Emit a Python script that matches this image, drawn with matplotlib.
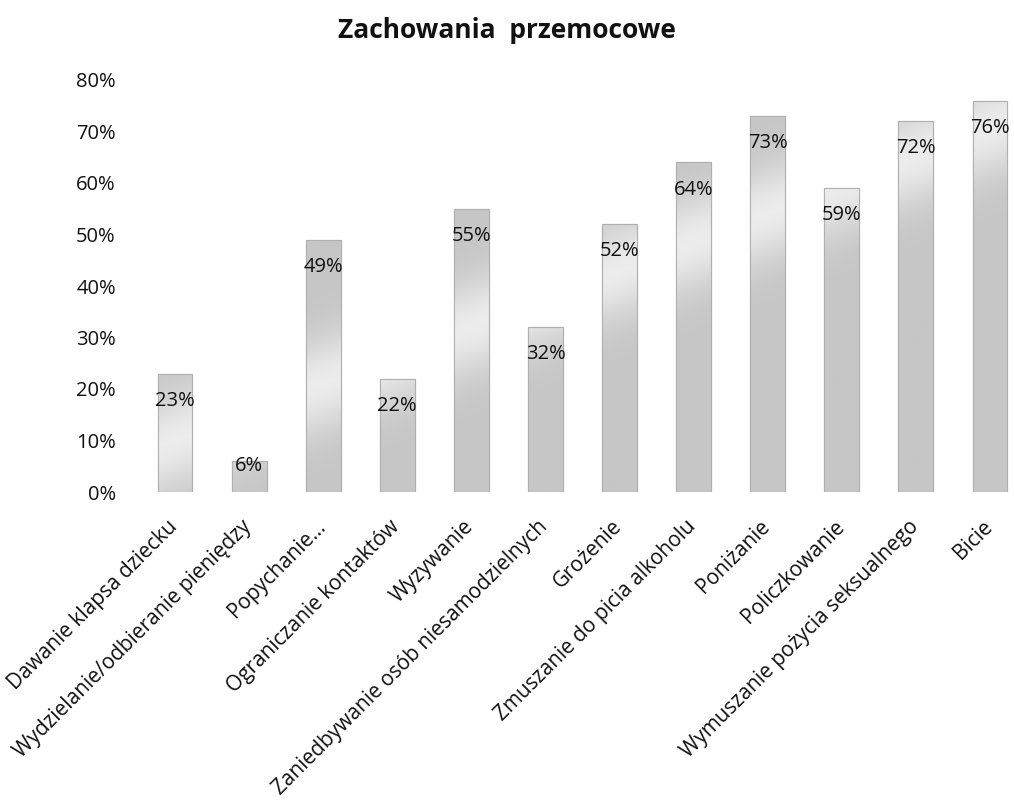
import numpy as np
import matplotlib
matplotlib.use("Agg")
import matplotlib.pyplot as plt
import matplotlib.transforms as mtransforms
from matplotlib.colors import LinearSegmentedColormap

categories = ["Dawanie klapsa dziecku", "Wydzielanie/odbieranie pieniędzy", "Popychanie...",
              "Ograniczanie kontaktów", "Wyzywanie", "Zaniedbywanie osób niesamodzielnych",
              "Grożenie", "Zmuszanie do picia alkoholu", "Poniżanie", "Policzkowanie",
              "Wymuszanie pożycia seksualnego", "Bicie"]
values = [0.23, 0.06, 0.49, 0.22, 0.55, 0.32, 0.52, 0.64, 0.73, 0.59, 0.72, 0.76]
yticks = [0, 0.1, 0.2, 0.3, 0.4, 0.5, 0.6, 0.7, 0.8]
ytick_labels = ["0%", "10%", "20%", "30%", "40%", "50%", "60%", "70%", "80%"]
title = "Zachowania  przemocowe"

plt.rcParams['font.family'] = ['Open Sans', 'DejaVu Sans']

fig = plt.figure(figsize=(10.14, 8.05), dpi=100)
W, H = 1014, 805
left, right = 138, 1027
bottom_px, top_px = 492, 80
ax = fig.add_axes([left / W, 1 - bottom_px / H, (right - left) / W, (bottom_px - top_px) / H])

x = np.arange(len(values))
bars = ax.bar(x, values, width=0.47, color="#c8c8c8", edgecolor="#b3b3b3", linewidth=0.8, zorder=2)

nx, ny = 400, 400
gx, gy = np.meshgrid(np.linspace(-0.5, 11.5, nx), np.linspace(0, 0.8, ny))
u = (gy - (0.10 + 0.055 * gx)) * 10
band = np.exp(-(u ** 2) / 0.8)
cmap = LinearSegmentedColormap.from_list("g", ["#c6c6c6", "#ececec"])
for b in bars:
    im = ax.imshow(band, extent=(-0.5, 11.5, 0, 0.8), origin="lower", cmap=cmap,
                   vmin=0, vmax=1, aspect="auto", zorder=2.5, interpolation="bilinear")
    im.set_clip_path(b)
    b2 = plt.Rectangle(b.get_xy(), b.get_width(), b.get_height(), fill=False,
                       edgecolor="#b0b0b0", linewidth=0.8, zorder=3)
    ax.add_patch(b2)

for xi, v in zip(x, values):
    yl = v - 0.053 if v > 0.15 else v - 0.01
    ax.text(xi, yl, f"{round(v * 100)}%", ha="center", va="center", fontsize=14.5,
            color="#111111", zorder=4)

ax.set_xlim(-0.5, 11.5)
ax.set_ylim(0, 0.8)
ax.set_yticks(yticks)
ax.set_yticklabels(ytick_labels, fontsize=14.5)
ax.set_xticks(x)
ax.set_xticklabels([])
offset = mtransforms.ScaledTranslation(-8 / 100, -24 / 100, fig.dpi_scale_trans)
for xi, cat in zip(x, categories):
    ax.text(xi, 0, cat, transform=ax.get_xaxis_transform() + offset, rotation=45,
            ha="right", va="top", rotation_mode="anchor", fontsize=15, color="#111111",
            clip_on=False)
ax.tick_params(axis="both", length=0, colors="#111111")
ax.tick_params(axis="y", pad=16)
for s in ax.spines.values():
    s.set_visible(False)

fig.text(0.5, 1 - 30 / H, title, ha="center", va="center", fontsize=19, fontweight="bold",
         color="#111111")

fig.savefig("out.png", dpi=100)
